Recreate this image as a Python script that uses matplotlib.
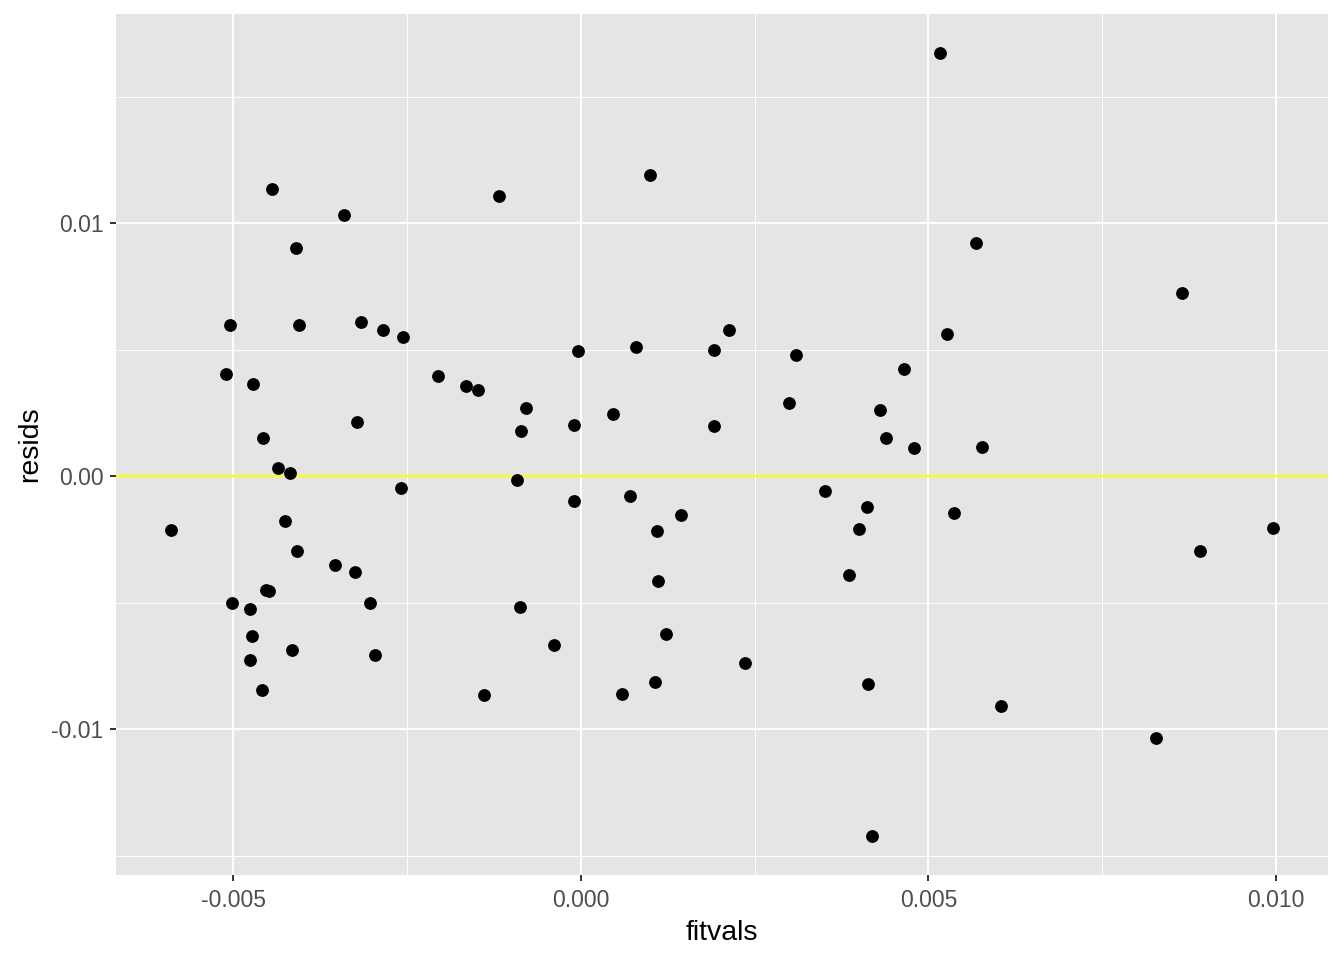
import matplotlib.pyplot as plt
from matplotlib.ticker import MultipleLocator

plt.rcParams['font.family'] = ['Liberation Sans', 'DejaVu Sans']

# fitted values and residuals
fitvals = [
    0.005165, -0.004446, -0.00118, 0.000993, -0.00341, -0.0041, 0.005683, 0.008647,
    -0.00505, -0.004058, -0.003165, -0.002849, -0.002561, 0.005266, 0.00213, 0.000791,
    -0.000043, 0.001914, 0.003094, 0.004647, -0.005108, -0.00472, -0.002058, -0.001655,
    -0.001482, 0.002993, -0.000791, 0.00046, 0.004302, -0.003223, -0.000101, 0.001914,
    -0.000863, -0.004576, 0.004388, 0.004791, 0.00577, -0.00436, -0.004187, -0.000921,
    -0.00259, -0.000101, 0.000705, 0.003511, 0.004115, 0.005367, 0.001439, -0.005899,
    -0.004259, 0.001094, 0.004, 0.009957, -0.004086, 0.008906, -0.00354, -0.003252,
    0.003856, 0.001108, -0.004532, -0.004489, -0.005022, -0.004763, -0.003036, -0.000878,
    -0.004734, 0.001223, -0.000388, -0.004158, -0.002964, -0.004763, 0.00236, -0.00459,
    -0.001396, 0.00059, 0.001065, 0.00413, 0.006043, 0.008273, 0.004187,
]
resids = [
    0.01672, 0.011344, 0.011067, 0.011897, 0.010316, 0.009012, 0.00921, 0.007233,
    0.005968, 0.005968, 0.006087, 0.005771, 0.005494, 0.005613, 0.005771, 0.005099,
    0.004941, 0.00498, 0.004783, 0.004229, 0.004032, 0.003636, 0.003953, 0.003557,
    0.003399, 0.002885, 0.002688, 0.002451, 0.002609, 0.002134, 0.002016, 0.001976,
    0.001779, 0.001502, 0.001502, 0.001107, 0.001146, 0.000316, 0.000119, -0.000158,
    -0.000474, -0.000988, -0.000791, -0.000593, -0.001225, -0.001462, -0.001542, -0.002134,
    -0.001779, -0.002174, -0.002095, -0.002055, -0.002964, -0.002964, -0.003518, -0.003794,
    -0.003913, -0.00415, -0.004506, -0.004545, -0.00502, -0.005257, -0.00502, -0.005178,
    -0.006324, -0.006245, -0.00668, -0.006877, -0.007075, -0.007273, -0.007391, -0.008458,
    -0.008656, -0.008617, -0.008142, -0.008221, -0.009091, -0.010356, -0.014229,
]

fig = plt.figure(figsize=(13.44, 9.6), dpi=100)
ax = fig.add_axes([0.0863, 0.0885, 0.9018, 0.8969])
ax.set_facecolor('#E5E5E5')

ax.scatter(fitvals, resids, s=85, color='black', linewidths=0, zorder=3)
ax.axhline(0, color='#FFFF00', lw=1.6, zorder=2)

ax.set_xlim(-0.00669, 0.01075)
ax.set_ylim(-0.01577, 0.01826)
ax.xaxis.set_minor_locator(MultipleLocator(0.0025))
ax.yaxis.set_minor_locator(MultipleLocator(0.005))
ax.set_xticks([-0.005, 0.0, 0.005, 0.01])
ax.set_xticklabels(['-0.005', '0.000', '0.005', '0.010'])
ax.set_yticks([-0.01, 0.0, 0.01])
ax.set_yticklabels(['-0.01', '0.00', '0.01'])

ax.grid(which='major', color='white', lw=1.4, zorder=0)
ax.grid(which='minor', color='white', lw=0.7, zorder=0)
ax.set_axisbelow(True)
for s in ax.spines.values():
    s.set_visible(False)
ax.tick_params(which='major', length=4, width=1.4, color='#333333',
               labelcolor='#4D4D4D', labelsize=16.5)
ax.tick_params(axis='x', which='major', pad=6)
ax.tick_params(axis='y', which='major', pad=5)
ax.tick_params(which='minor', length=0)

ax.set_xlabel('fitvals', fontsize=20.5, labelpad=6)
ax.set_ylabel('resids', fontsize=20.5, labelpad=6)

fig.savefig('out.png', dpi=100)
